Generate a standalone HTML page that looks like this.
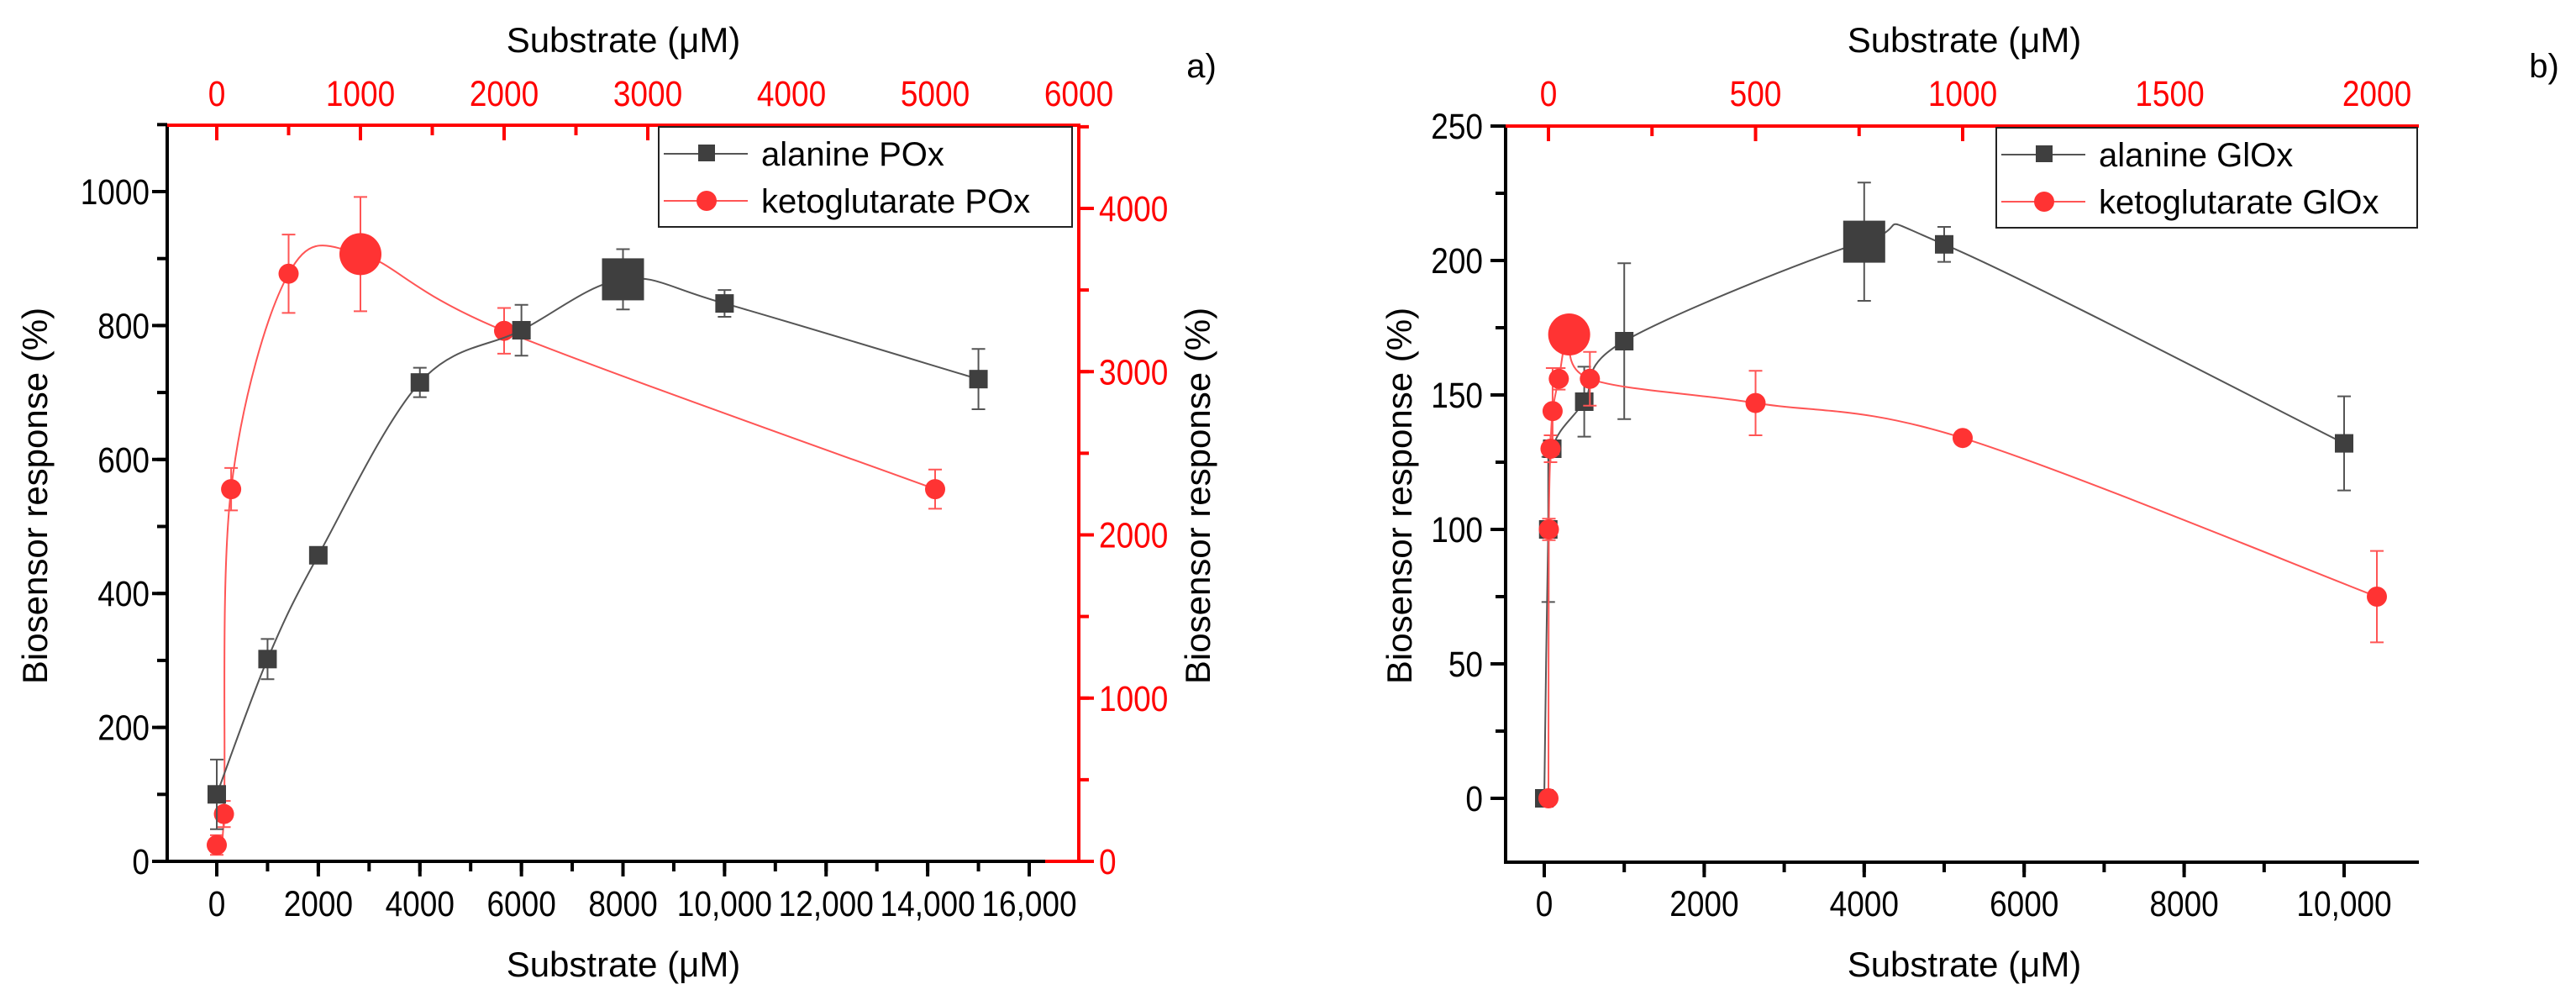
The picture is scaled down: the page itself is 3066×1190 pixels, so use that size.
<!DOCTYPE html>
<html><head><meta charset="utf-8"><style>
html,body{margin:0;padding:0;background:#fff;}
svg{display:block;font-family:"Liberation Sans",Arial,sans-serif;}
</style></head><body>
<svg id="fig" width="3066" height="1190" viewBox="0 0 3066 1190" xmlns="http://www.w3.org/2000/svg"></svg>
<script>
// Panel a data
const aAlaX=[0,1000,2000,4000,6000,8000,10000,15000];
const aAlaY=[100,302,457,715,793,869,833,720];
const aAlaE=[52,30,8,22,38,45,20,45];
const aKetX=[0,50,100,500,1000,2000,5000];
const aKetY=[100,290,2280,3600,3720,3250,2280];
const aKetE=[60,80,130,240,350,140,120];
const aBottomTicks=[0,2000,4000,6000,8000,10000,12000,14000,16000];
const aBottomLabels=["0","2000","4000","6000","8000","10,000","12,000","14,000","16,000"];
const aTopTicks=[0,1000,2000,3000,4000,5000,6000];
const aLeftTicks=[0,200,400,600,800,1000];
const aRightTicks=[0,1000,2000,3000,4000];
// Panel b data
const bAlaX=[0,50,100,500,1000,4000,5000,10000];
const bAlaY=[0,100,130,147.5,170,207,206,132];
const bAlaE=[0,27,3,13,29,22,6.5,17.5];
const bKetX=[0,1,5,10,25,50,100,500,1000,2000];
const bKetY=[0,100,130,144,156,172.5,156,147,134,75];
const bKetE=[0,4,5,16,4,0,10,12,0,17];
const bBottomTicks=[0,2000,4000,6000,8000,10000];
const bBottomLabels=["0","2000","4000","6000","8000","10,000"];
const bTopTicks=[0,500,1000,1500,2000];
const bLeftTicks=[0,50,100,150,200,250];

const NS="http://www.w3.org/2000/svg";
const svg=document.getElementById('fig');
function mk(tag,attrs,parent,text){const e=document.createElementNS(NS,tag);for(const k in attrs)e.setAttribute(k,attrs[k]);if(text!==undefined)e.textContent=text;(parent||svg).appendChild(e);return e;}
function lin(d0,d1,r0,r1){return v=>r0+(v-d0)*(r1-r0)/(d1-d0);}
function spline(pts){let d='M'+pts[0][0]+','+pts[0][1];for(let i=0;i<pts.length-1;i++){const p0=pts[Math.max(0,i-1)],p1=pts[i],p2=pts[i+1],p3=pts[Math.min(pts.length-1,i+2)];const c1=[p1[0]+(p2[0]-p0[0])/6,p1[1]+(p2[1]-p0[1])/6];const c2=[p2[0]-(p3[0]-p1[0])/6,p2[1]-(p3[1]-p1[1])/6];d+=' C'+c1[0]+','+c1[1]+' '+c2[0]+','+c2[1]+' '+p2[0]+','+p2[1];}return d;}

function series(g,xs,ys,es,sx,sy,color,line,shape,bigIdx,name){
  const pts=xs.map((x,i)=>[sx(x),sy(ys[i])]);
  const p=mk('path',{d:spline(pts),fill:'none',stroke:line,'stroke-width':2},g);
  
  
  xs.forEach((x,i)=>{
    if(es[i]>0){const x0=sx(x),y1=sy(ys[i]+es[i]),y2=sy(ys[i]-es[i]);
      const eb=mk('path',{d:`M${x0},${y1}V${y2}M${x0-8},${y1}H${x0+8}M${x0-8},${y2}H${x0+8}`,stroke:line,'stroke-width':2,fill:'none'},g);
      
      }
  });
  xs.forEach((x,i)=>{
    const big=i===bigIdx;const s=big?25:11;let m;
    if(shape==='sq')m=mk('rect',{x:sx(x)-s,y:sy(ys[i])-s,width:2*s,height:2*s,fill:color},g);
    else m=mk('circle',{cx:sx(x),cy:sy(ys[i]),r:big?25:12,fill:color},g);
    
    
  });
}

function axisTicks(g,vals,scale,pos,orient,len,color,labels,labelOff,anchor){
  vals.forEach((v,i)=>{const p=scale(v);let d;
    if(orient==='h')d=`M${p},${pos}V${pos+len}`;else d=`M${pos},${p}H${pos+len}`;
    const t=mk('path',{d:d,stroke:color,'stroke-width':4},g);
    
    
    if(labels){const lb=labels[i];let tx;
      if(orient==='h')tx=mk('text',{x:0,y:0,transform:`translate(${p},${labelOff}) scale(1,1.15)`,'text-anchor':'middle','font-size':37,fill:color},g,lb);
      else tx=mk('text',{x:0,y:0,transform:`translate(${labelOff},${p+15}) scale(1,1.15)`,'text-anchor':anchor,'font-size':37,fill:color},g,lb);
      
      }
  });
}
function range(a,b,s){const r=[];for(let v=a;v<=b+1e-9;v+=s)r.push(v);return r;}

function legend(g,x,y,w,h,l1,l2){
  const r=mk('rect',{x:x,y:y,width:w,height:h,fill:'#fff',stroke:'#222','stroke-width':2},g);
  
  
  const e1=mk('g',{},g);
  mk('path',{d:`M${x+6},${y+32}H${x+106}`,stroke:'#555','stroke-width':2},e1);
  mk('rect',{x:x+47,y:y+21,width:20,height:20,fill:'#3f3f3f'},e1);
  mk('text',{x:x+122,y:y+46,'font-size':40,fill:'#000'},e1,l1);
  const e2=mk('g',{},g);
  mk('path',{d:`M${x+6},${y+88}H${x+106}`,stroke:'#f55','stroke-width':2},e2);
  mk('circle',{cx:x+57,cy:y+88,r:12,fill:'#f33'},e2);
  mk('text',{x:x+122,y:y+102,'font-size':40,fill:'#000'},e2,l2);
}
function txt(g,x,y,s,size,name,rot,color){const t=mk('text',{x:x,y:y,'text-anchor':'middle','font-size':size,fill:color||'#000'},g,s);if(rot)t.setAttribute('transform',`rotate(-90 ${x} ${y})`);return t;}

// ---------- Panel a ----------
(function(){
  const g=mk('g',{});
  const L=199,R=1284,T=149,B=1025;
  const sx=lin(0,16000,258,1225), sy=lin(0,1000,B,228);
  const tx=lin(0,6000,258,1284), ty=lin(0,4000,B,248);
  axisTicks(g,range(-1000,16000,1000).filter(v=>sx(v)>=L),sx,B,'h',12,'#000');
  axisTicks(g,aBottomTicks,sx,B,'h',18,'#000',aBottomLabels,1090);
  axisTicks(g,range(0,1100,100),sy,L,'v',-12,'#000');
  axisTicks(g,aLeftTicks,sy,L,'v',-18,'#000',aLeftTicks.map(String),178,'end');
  axisTicks(g,range(0,6000,500),tx,T,'h',12,'#f00');
  axisTicks(g,aTopTicks,tx,T,'h',18,'#f00',aTopTicks.map(String),126);
  axisTicks(g,range(0,4500,500),ty,R,'v',12,'#f00');
  axisTicks(g,aRightTicks,ty,R,'v',18,'#f00',aRightTicks.map(String),1308,'start');
  const ax=mk('path',{d:`M${L},${T}V${B}H${R-40}`,stroke:'#000','stroke-width':4,fill:'none'},g);
  const rx=mk('path',{d:`M${L},${T}H${R}V${B}H${R-40}`,stroke:'#f00','stroke-width':4,fill:'none'},g);
  series(g,aKetX,aKetY,aKetE,tx,ty,'#f33','#f55','ci',4,'ketoglutarate-pox');
  series(g,aAlaX,aAlaY,aAlaE,sx,sy,'#3f3f3f','#555','sq',5,'alanine-pox');
  legend(g,784,151,492,119,'alanine POx','ketoglutarate POx');
  txt(g,742,1162,'Substrate (μM)',42,'x-axis-title-bottom');
  txt(g,742,62,'Substrate (μM)',42,'x-axis-title-top');
  txt(g,56,590,'Biosensor response (%)',42,'y-axis-title-left',true);
  txt(g,1440,590,'Biosensor response (%)',42,'y-axis-title-right',true);
  txt(g,1430,92,'a)',40,'panel-label-a');
})();

// ---------- Panel b ----------
(function(){
  const g=mk('g',{});
  const L=1792,R=2879,T=150,B=1026;
  const sx=lin(0,10000,1838,2790), sy=lin(0,250,950,150);
  const tx=lin(0,2000,1843,2829);
  axisTicks(g,range(-1000,11000,1000).filter(v=>sx(v)>=L&&sx(v)<=R),sx,B,'h',12,'#000');
  axisTicks(g,bBottomTicks,sx,B,'h',18,'#000',bBottomLabels,1090);
  axisTicks(g,range(-25,250,25).filter(v=>sy(v)<=B),sy,L,'v',-12,'#000');
  axisTicks(g,bLeftTicks,sy,L,'v',-18,'#000',bLeftTicks.map(String),1765,'end');
  axisTicks(g,range(0,2000,250),tx,T,'h',12,'#f00');
  axisTicks(g,bTopTicks,tx,T,'h',18,'#f00',bTopTicks.map(String),126);
  const ax=mk('path',{d:`M${L},${T}V${B}H${R}`,stroke:'#000','stroke-width':4,fill:'none'},g);
  const rx=mk('path',{d:`M${L},${T}H${R}`,stroke:'#f00','stroke-width':4,fill:'none'},g);
  series(g,bAlaX,bAlaY,bAlaE,sx,sy,'#3f3f3f','#555','sq',5,'alanine-glox');
  series(g,bKetX,bKetY,bKetE,tx,sy,'#f33','#f55','ci',5,'ketoglutarate-glox');
  legend(g,2376,152,501,119,'alanine GlOx','ketoglutarate GlOx');
  txt(g,2338,1162,'Substrate (μM)',42,'x-axis-title-bottom');
  txt(g,2338,62,'Substrate (μM)',42,'x-axis-title-top');
  txt(g,1680,590,'Biosensor response (%)',42,'y-axis-title-left',true);
  txt(g,3028,92,'b)',40,'panel-label-b');
})();
</script>
</body></html>
